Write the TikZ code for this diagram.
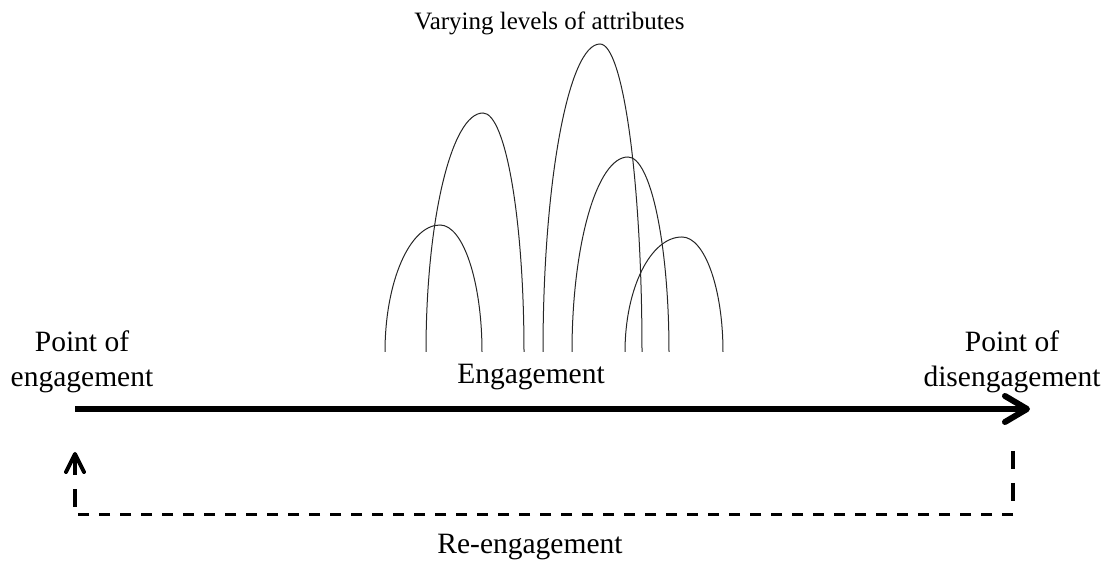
\documentclass[tikz,border=0pt]{standalone}
\usepackage{fontspec}
\setmainfont{Liberation Serif}
\usetikzlibrary{arrows.meta}

\begin{document}
\begin{tikzpicture}[
  x=0.5pt, y=0.5pt,
  lbl/.style={
    font=\fontsize{14.75}{17.5}\selectfont,
    inner sep=0pt, align=center, anchor=base},
  toplbl/.style={
    font=\fontsize{12.5}{15}\selectfont,
    inner sep=0pt, anchor=base},
  attr/.style={line width=0.5pt, black!85},
  arr/.style={line width=3pt, -{Straight Barb[length=11pt,width=13pt,round]}},
  loopv/.style={line width=2pt, dash pattern=on 9pt off 7pt},
  looph/.style={line width=1.5pt, dash pattern=on 5.5pt off 5pt},
]
  \useasboundingbox (0,0) rectangle (1105,565);

  % engagement axis
  \coordinate (start) at (75,156);
  \coordinate (stop)  at (1030,156);
  \draw[arr] (start) -- (stop);

  \node[lbl] (poe)  at (82,178)   {Point of\\engagement};
  \node[lbl] (pod)  at (1012,178) {Point of\\disengagement};
  \node[lbl] (eng)  at (531,181)  {Engagement};

  % attribute humps: left foot / peak x / right foot / peak height
  \foreach \l/\p/\r/\t in {385/440/482/340, 426/483/524/452, 543/600/642/521,
                           572/628/669/408, 625/682/723/328}{
    \draw[attr] (\l,213)
      arc[start angle=180, end angle=90, x radius=\p-\l, y radius=\t-213]
      arc[start angle=90, end angle=0, x radius=\r-\p, y radius=\t-213];
  }
  \node[toplbl] (var) at (549.5,535.5) {Varying levels of attributes};

  % re-engagement loop
  \coordinate (rtop) at (1013,114);
  \coordinate (rbot) at (1013,50);
  \coordinate (lbot) at (75,50);
  \coordinate (ltop) at (75,113);
  \draw[loopv] (rtop) -- (rbot);
  \draw[looph] (rbot) -- (lbot);
  \draw[loopv, dash phase=12pt,
        -{Straight Barb[length=9pt,width=9pt,round]}] (lbot) -- (ltop);

  \node[lbl] (reng) at (530,11) {Re-engagement};
\end{tikzpicture}
\end{document}
